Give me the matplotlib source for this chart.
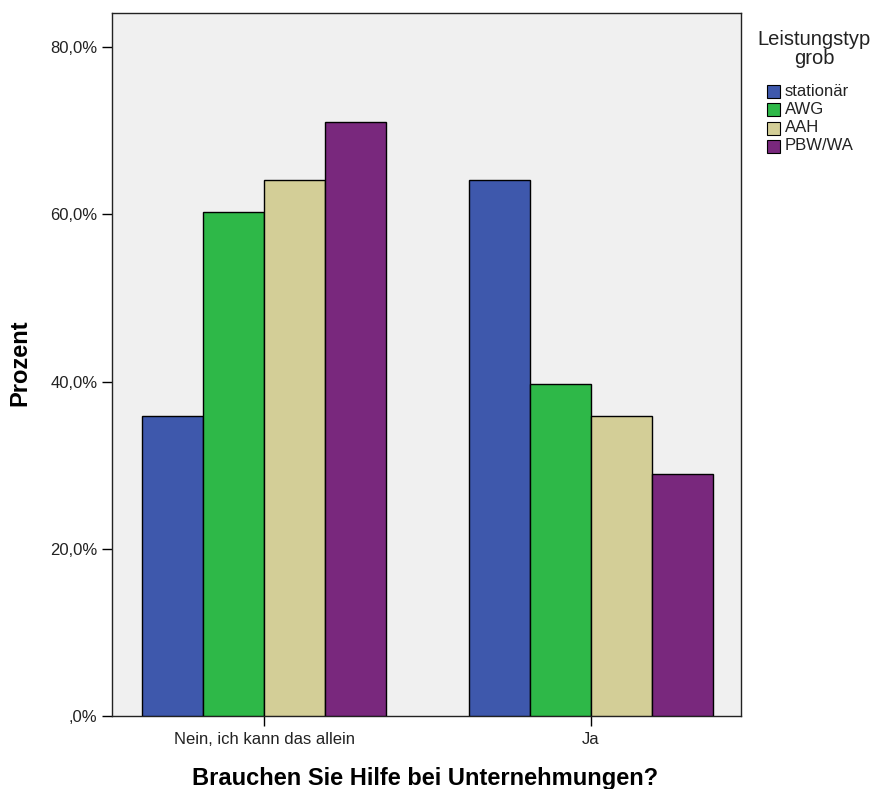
import matplotlib
matplotlib.use("Agg")
import matplotlib.pyplot as plt
from matplotlib.patches import Rectangle
import numpy as np

plt.rcParams['font.family'] = ['Liberation Sans', 'DejaVu Sans']

categories = ["Nein, ich kann das allein", "Ja"]
series_names = ["stationär", "AWG", "AAH", "PBW/WA"]
values = {
    "stationär": [35.9, 64.1],
    "AWG": [60.3, 39.7],
    "AAH": [64.1, 35.9],
    "PBW/WA": [71.1, 28.9],
}
colors = ["#3E58AC", "#2EB848", "#D3CE97", "#79287D"]
yticks = [0, 20, 40, 60, 80]
ytick_labels = [",0%", "20,0%", "40,0%", "60,0%", "80,0%"]
legend_title = "Leistungstyp\ngrob"

W, H = 877, 789
fig = plt.figure(figsize=(W/100, H/100), dpi=100)
ax = fig.add_axes([112/W, 1-716/H, (741-112)/W, (716-13)/H])
ax.set_facecolor("#F0F0F0")

x = np.arange(len(categories))
w = 0.1865
n = len(series_names)
for i, (name, c) in enumerate(zip(series_names, colors)):
    ax.bar(x + (i - (n-1)/2)*w, values[name], width=w, color=c,
           edgecolor="black", linewidth=1.0, label=name, zorder=3)

ax.set_xlim(-0.465, 1.459)
ax.set_ylim(0, 84.1)
ax.set_yticks(yticks)
ax.set_yticklabels(ytick_labels)
ax.set_xticks(x)
ax.set_xticklabels(categories)
ax.tick_params(axis='both', labelsize=12, length=7.5, width=1, color="black", labelcolor="#222222")
ax.tick_params(axis='y', pad=3)
ax.tick_params(axis='x', pad=4)
for s in ax.spines.values():
    s.set_linewidth(1.0)
    s.set_color("#222222")

ax.set_ylabel("Prozent", fontsize=17, fontweight="bold", va="center", ha="center")
ax.yaxis.set_label_coords((20-112)/629, (716-363)/703)
ax.set_xlabel("Brauchen Sie Hilfe bei Unternehmungen?", fontsize=17, fontweight="bold", va="center", ha="center")
ax.xaxis.set_label_coords((425-112)/629, (716-778)/703)

# legend (drawn manually to match layout)
fig.text(814/W, 1-49/H, legend_title, ha="center", va="center", fontsize=14.5,
         linespacing=1.0, color="#222222")
item_y = [91, 109, 128, 146]
for name, c, yy in zip(series_names, colors, item_y):
    fig.patches.append(Rectangle((767/W, 1-(yy+6.5)/H), 13/W, 13/H, transform=fig.transFigure,
                                 facecolor=c, edgecolor="black", linewidth=0.8))
    fig.text(785/W, 1-yy/H, name, ha="left", va="center", fontsize=12, color="#222222")

fig.savefig("out.png", dpi=100)
